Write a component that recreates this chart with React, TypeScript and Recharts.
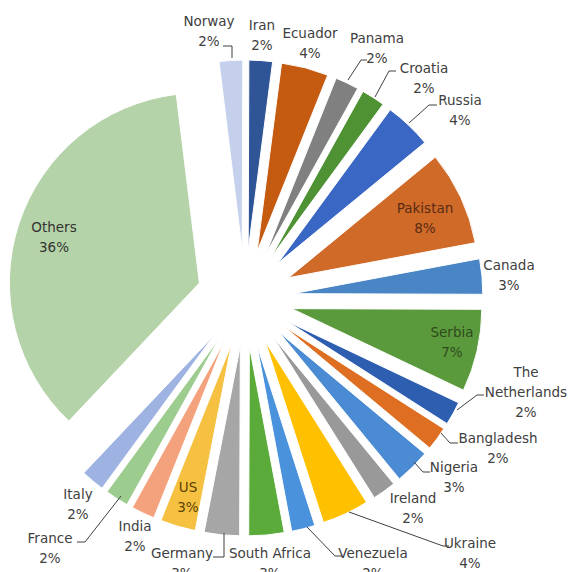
import React from "react";
import { PieChart, Pie, Cell, Sector } from "recharts";

const countries = [
  "Norway", "Iran", "Ecuador", "Panama", "Croatia", "Russia", "Pakistan",
  "Canada", "Serbia", "The Netherlands", "Bangladesh", "Nigeria", "Ireland",
  "Ukraine", "Venezuela", "South Africa", "Germany", "US", "India", "France",
  "Italy", "Others",
];
const shares = [2, 2, 4, 2, 2, 4, 8, 3, 7, 2, 2, 3, 2, 4, 2, 3, 3, 3, 2, 2, 2, 36];
const colors = [
  "#c5d0ec", "#2f5597", "#c55a11", "#808080", "#4f9234", "#3a66c4", "#d06a28",
  "#4a86c6", "#5b9a3c", "#2e5eb0", "#de6e22", "#4a8bd3", "#999999", "#ffc000",
  "#4a92dc", "#5aab3a", "#a6a6a6", "#f6c040", "#f4a27e", "#9ccc8e", "#9fb3e2",
  "#b5d3a8",
];

const data = countries.map((name, i) => ({ name, value: shares[i] }));

const RADIAN = Math.PI / 180;
const EXPLODE = 48;
const FONT = "DejaVu Sans";

// excel had the labels dragged around by hand, so they are placed by hand here too
type LabelSpot = { x: number; y: number; color?: string; lines?: string[]; leader?: number[][] };
const labelSpots: Record<string, LabelSpot> = {
  Norway: { x: 209, y: 21, leader: [[223, 46], [232, 46], [232, 58]] },
  Iran: { x: 262, y: 25 },
  Ecuador: { x: 310, y: 33 },
  Panama: { x: 377, y: 38, leader: [[367, 60], [361, 60], [348, 80]] },
  Croatia: { x: 424, y: 68, leader: [[396, 71], [389, 71], [375, 97]] },
  Russia: { x: 460, y: 100, leader: [[437, 105], [429, 105], [409, 123]] },
  Pakistan: { x: 425, y: 208, color: "#5a2a15" },
  Canada: { x: 509, y: 265 },
  Serbia: { x: 452, y: 332, color: "#2f4a1c" },
  "The Netherlands": {
    x: 526, y: 372, lines: ["The", "Netherlands"],
    leader: [[484, 395], [477, 395], [457, 410]],
  },
  Bangladesh: { x: 498, y: 438, leader: [[458, 443], [450, 443], [441, 433]] },
  Nigeria: { x: 454, y: 467, leader: [[430, 472], [423, 472], [414, 462]] },
  Ireland: { x: 413, y: 498 },
  Ukraine: { x: 470, y: 543, leader: [[449, 546], [443, 546], [349, 512]] },
  Venezuela: { x: 373, y: 553, leader: [[342, 556], [335, 556], [307, 527]] },
  "South Africa": { x: 270, y: 553 },
  Germany: { x: 182, y: 553, leader: [[213, 557], [224, 557], [224, 533]] },
  US: { x: 188, y: 487, color: "#5b4300" },
  India: { x: 135, y: 526 },
  Italy: { x: 78, y: 494 },
  France: { x: 50, y: 538, leader: [[77, 542], [85, 542], [121, 496]] },
  Others: { x: 54, y: 227, color: "#333333" },
};

const ExplodedSector = (props: any) => {
  const { cx, cy, midAngle } = props;
  const dx = EXPLODE * Math.cos(-midAngle * RADIAN);
  const dy = EXPLODE * Math.sin(-midAngle * RADIAN);
  return <Sector {...props} cx={cx + dx} cy={cy + dy} />;
};

const renderLabel = (props: any) => {
  const name = countries[props.index];
  const spot = labelSpots[name];
  if (!spot) return null;
  const lines = [...(spot.lines ?? [name]), `${shares[props.index]}%`];
  return (
    <g>
      {spot.leader && (
        <polyline
          points={spot.leader.map((p) => p.join(",")).join(" ")}
          fill="none"
          stroke="#404040"
          strokeWidth={1}
        />
      )}
      <text
        x={spot.x}
        y={spot.y + 5}
        textAnchor="middle"
        fill={spot.color ?? "#404040"}
        fontSize={13.5}
        fontFamily={FONT}
      >
        {lines.map((l, j) => (
          <tspan key={j} x={spot.x} dy={j === 0 ? 0 : 20}>
            {l}
          </tspan>
        ))}
      </text>
    </g>
  );
};

export default function App() {
  return (
    <div style={{ position: "absolute", left: 0, top: 0, background: "#fff" }}>
      <PieChart width={571} height={572} margin={{ top: 0, right: 0, bottom: 0, left: 0 }}>
        <Pie
          data={data}
          dataKey="value"
          nameKey="name"
          cx={245}
          cy={298}
          outerRadius={190}
          innerRadius={0}
          startAngle={97}
          endAngle={-263}
          stroke="#ffffff"
          strokeWidth={1}
          shape={ExplodedSector}
          activeShape={ExplodedSector}
          inactiveShape={ExplodedSector}
          label={renderLabel}
          labelLine={false}
          isAnimationActive={false}
        >
          {data.map((d, i) => (
            <Cell key={d.name} fill={colors[i]} />
          ))}
        </Pie>
      </PieChart>
    </div>
  );
}
